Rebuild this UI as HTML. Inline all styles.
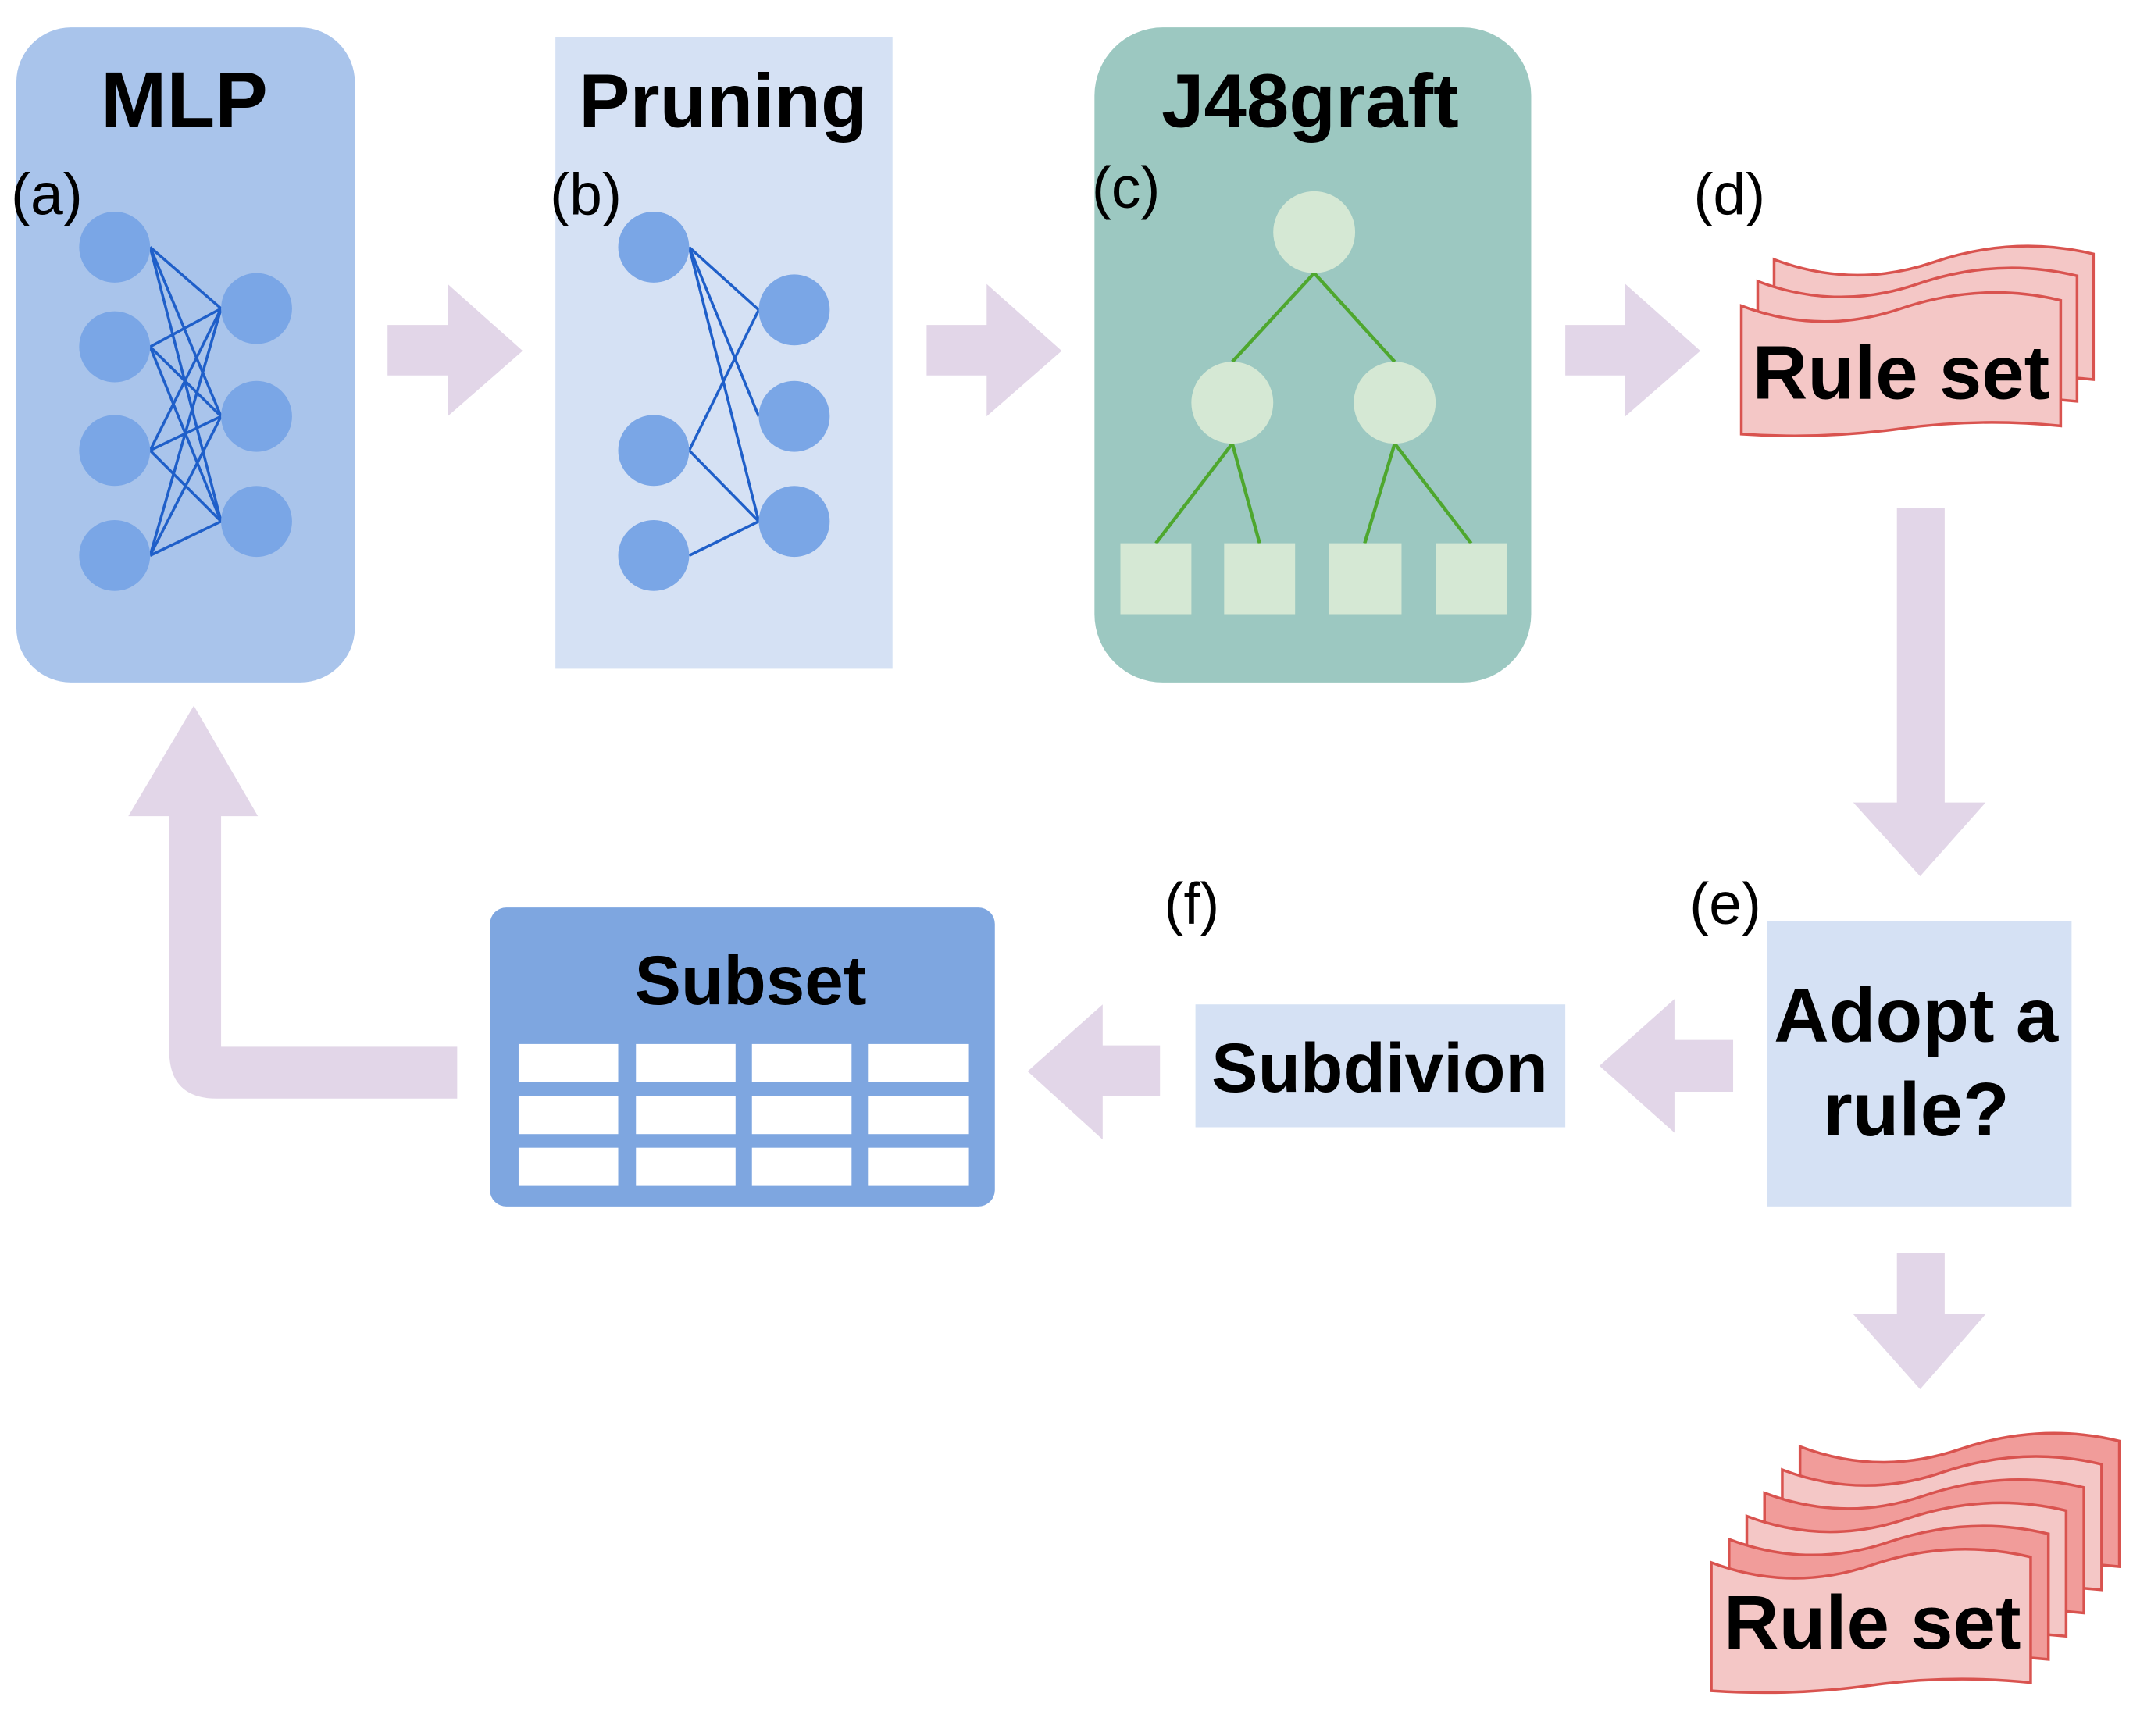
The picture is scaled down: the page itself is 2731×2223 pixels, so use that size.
<!DOCTYPE html>
<html><head><meta charset="utf-8"><style>
html,body{margin:0;padding:0;background:#fff}
svg{display:block}
text{font-family:"Liberation Sans",Arial,sans-serif}
.t{font-weight:bold;text-anchor:middle}
.l{font-size:43px}
</style></head><body>
<svg width="2731" height="2223" viewBox="0 0 1563 1272" xmlns="http://www.w3.org/2000/svg">
<defs>
<path id="doc" d="M0,10 Q58,32 117,12 T234,6 L234,98 Q175,92 117,100 T0,104 Z"/>
</defs>
<rect x="12" y="20" width="248" height="480" rx="40" fill="#a9c4eb"/>
<text x="135" y="93" class="t" font-size="58">MLP</text>
<text x="8" y="157" class="l">(a)</text>
<g stroke="#1f5fc9" stroke-width="2">
<line x1="110" y1="181" x2="162" y2="226"/><line x1="110" y1="181" x2="162" y2="305"/><line x1="110" y1="181" x2="162" y2="382"/>
<line x1="110" y1="254" x2="162" y2="226"/><line x1="110" y1="254" x2="162" y2="305"/><line x1="110" y1="254" x2="162" y2="382"/>
<line x1="110" y1="330" x2="162" y2="226"/><line x1="110" y1="330" x2="162" y2="305"/><line x1="110" y1="330" x2="162" y2="382"/>
<line x1="110" y1="407" x2="162" y2="226"/><line x1="110" y1="407" x2="162" y2="305"/><line x1="110" y1="407" x2="162" y2="382"/>
</g>
<g fill="#7aa6e6">
<circle cx="84" cy="181" r="26"/><circle cx="84" cy="254" r="26"/><circle cx="84" cy="330" r="26"/><circle cx="84" cy="407" r="26"/>
<circle cx="188" cy="226" r="26"/><circle cx="188" cy="305" r="26"/><circle cx="188" cy="382" r="26"/>
</g>
<rect x="407" y="27" width="247" height="463" fill="#d5e1f4"/>
<text x="530" y="93" class="t" font-size="56">Pruning</text>
<text x="403" y="157" class="l">(b)</text>
<g stroke="#1f5fc9" stroke-width="2">
<line x1="505" y1="181" x2="556" y2="227"/><line x1="505" y1="181" x2="556" y2="305"/><line x1="505" y1="181" x2="556" y2="382"/>
<line x1="505" y1="330" x2="556" y2="227"/><line x1="505" y1="330" x2="556" y2="382"/><line x1="505" y1="407" x2="556" y2="382"/>
</g>
<g fill="#7aa6e6">
<circle cx="479" cy="181" r="26"/><circle cx="479" cy="330" r="26"/><circle cx="479" cy="407" r="26"/>
<circle cx="582" cy="227" r="26"/><circle cx="582" cy="305" r="26"/><circle cx="582" cy="382" r="26"/>
</g>
<rect x="802" y="20" width="320" height="480" rx="50" fill="#9cc8c1"/>
<text x="960" y="93" class="t" font-size="56">J48graft</text>
<text x="800" y="152" class="l">(c)</text>
<g stroke="#4ea72e" stroke-width="2.5">
<line x1="963" y1="200" x2="903" y2="265"/><line x1="963" y1="200" x2="1022" y2="265"/>
<line x1="903" y1="325" x2="847" y2="398"/><line x1="903" y1="325" x2="923" y2="398"/>
<line x1="1022" y1="325" x2="1000" y2="398"/><line x1="1022" y1="325" x2="1078" y2="398"/>
</g>
<g fill="#d5e8d4">
<circle cx="963" cy="170" r="30"/><circle cx="903" cy="295" r="30"/><circle cx="1022" cy="295" r="30"/>
<rect x="821" y="398" width="52" height="52"/><rect x="897" y="398" width="52" height="52"/>
<rect x="974" y="398" width="53" height="52"/><rect x="1052" y="398" width="52" height="52"/>
</g>
<g fill="#e2d6e8">
<polygon points="284,238 328,238 328,208 383,257 328,305 328,275 284,275"/>
<polygon points="679,238 723,238 723,208 778,257 723,305 723,275 679,275"/>
<polygon points="1147,238 1191,238 1191,208 1246,257 1191,305 1191,275 1147,275"/>
<polygon points="1390,372 1425,372 1425,588 1455,588 1407,642 1358,588 1390,588"/>
<polygon points="1270,762 1227,762 1227,732 1172,781 1227,830 1227,800 1270,800"/>
<polygon points="850,766 808,766 808,736 753,785 808,835 808,803 850,803"/>
<polygon points="1390,918 1425,918 1425,963 1455,963 1407,1018 1358,963 1390,963"/>
<path d="M335,767 L162,767 L162,598 L189,598 L142,517 L94,598 L124,598 L124,770 Q124,805 159,805 L335,805 Z"/>
</g>
<text x="1241" y="157" class="l">(d)</text>
<g fill="#f4c7c6" stroke="#d9534f" stroke-width="2">
<use href="#doc" x="1300" y="180"/>
<use href="#doc" x="1288" y="196"/>
<use href="#doc" x="1276" y="214"/>
</g>
<text x="1393" y="292" class="t" font-size="56">Rule set</text>
<text x="1238" y="677" class="l">(e)</text>
<rect x="1295" y="675" width="223" height="209" fill="#d5e1f4"/>
<text x="1404" y="763" class="t" font-size="56">Adopt a</text>
<text x="1404" y="832" class="t" font-size="56">rule?</text>
<text x="853" y="677" class="l">(f)</text>
<rect x="876" y="736" width="271" height="90" fill="#d5e1f4"/>
<text x="1011" y="800" class="t" font-size="51">Subdivion</text>
<rect x="359" y="665" width="370" height="219" rx="12" fill="#7ea6e0"/>
<text x="550" y="736" class="t" font-size="51">Subset</text>
<g fill="#fff">
<rect x="380" y="765" width="73" height="28"/><rect x="466" y="765" width="73" height="28"/><rect x="551" y="765" width="73" height="28"/><rect x="636" y="765" width="74" height="28"/>
<rect x="380" y="803" width="73" height="28"/><rect x="466" y="803" width="73" height="28"/><rect x="551" y="803" width="73" height="28"/><rect x="636" y="803" width="74" height="28"/>
<rect x="380" y="841" width="73" height="28"/><rect x="466" y="841" width="73" height="28"/><rect x="551" y="841" width="73" height="28"/><rect x="636" y="841" width="74" height="28"/>
</g>
<g stroke="#d9534f" stroke-width="2">
<use href="#doc" x="1319" y="1050" fill="#f19c9a"/>
<use href="#doc" x="1306" y="1067" fill="#f4c7c6"/>
<use href="#doc" x="1293" y="1084" fill="#f19c9a"/>
<use href="#doc" x="1280" y="1101" fill="#f4c7c6"/>
<use href="#doc" x="1267" y="1118" fill="#f19c9a"/>
<use href="#doc" x="1254" y="1135" fill="#f4c7c6"/>
</g>
<text x="1372" y="1208" class="t" font-size="56">Rule set</text>
</svg>
</body></html>
